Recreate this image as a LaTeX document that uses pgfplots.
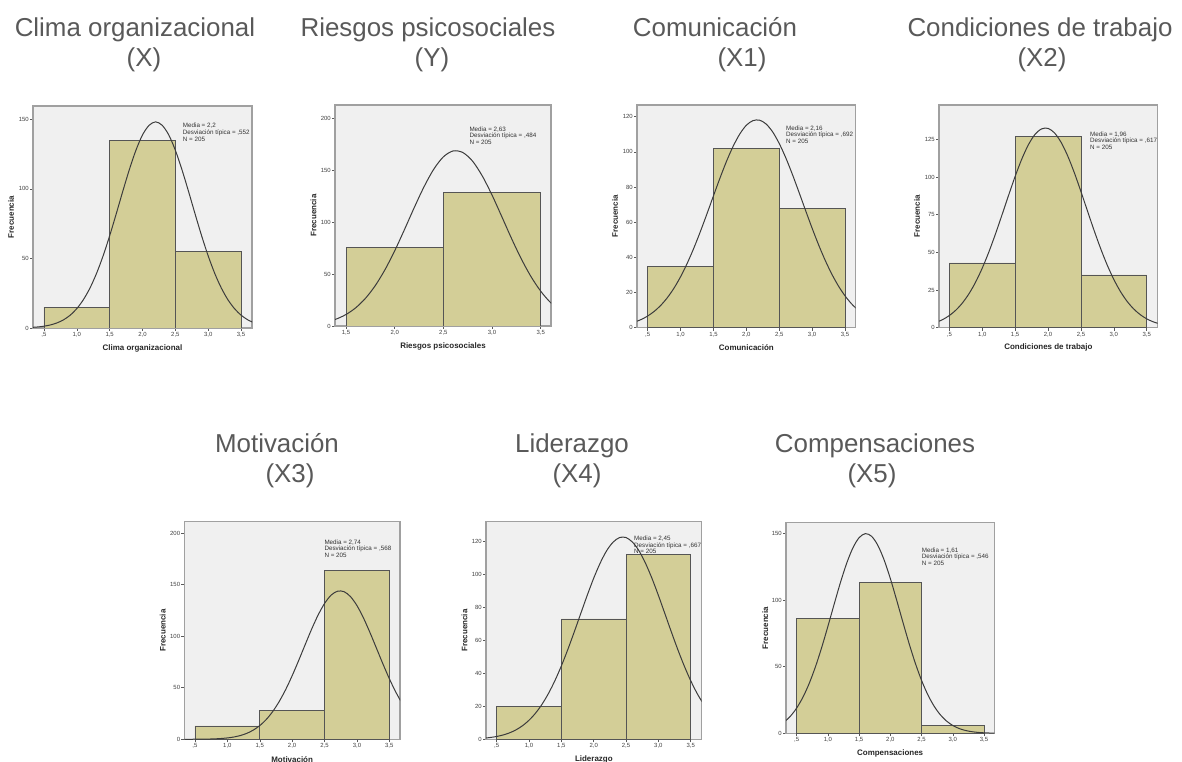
\documentclass[border=0pt]{standalone}
\usepackage{fontspec}
\setmainfont{Liberation Sans}
\usepackage{pgfplots}
\pgfplotsset{compat=1.18}
\definecolor{bgg}{HTML}{F0F0F0}
\definecolor{frameg}{HTML}{A0A0A0}
\definecolor{barf}{HTML}{D3CE97}
\definecolor{bard}{HTML}{555555}
\definecolor{curvec}{HTML}{3C3C3C}
\definecolor{titleg}{HTML}{595959}
\pgfplotsset{
  spss/.style={
    scale only axis,
    axis background/.style={fill=bgg},
    axis line style={draw=frameg, line width=1.2bp},
    tick align=outside,
    major tick length=3bp,
    xtick pos=bottom, ytick pos=left,
    tick style={draw=black!65, line width=0.5bp},
    ymin=0,
    /pgf/number format/assume math mode=true,
    tick label style={font=\fontsize{6}{6}\selectfont, text=black!75, inner sep=1bp},
    label style={font=\bfseries\fontsize{8}{8}\selectfont, text=black!85},
    x label style={at={(axis description cs:0.5,0)}, anchor=center, yshift=-20bp},
    y label style={at={(axis description cs:-0.1,0.5)}, anchor=center},
    ylabel={Frecuencia},
    xtick={0.5,1,1.5,2,2.5,3,3.5},
    xticklabels={{,5},{1,0},{1,5},{2,0},{2,5},{3,0},{3,5}},
  },
  bars/.style={ybar interval, fill=barf, draw=bard, line width=0.7bp},
  normal/.style={smooth, draw=curvec, line width=1bp, mark=none},
}
\tikzset{
  ttl/.style={anchor=base, text=titleg, font=\fontsize{26}{26}\selectfont, inner sep=0},
  ann/.style={anchor=north west, align=left, text=black!80, font=\fontsize{6.3}{6.8}\selectfont, inner sep=0},
}
\begin{document}
\begin{tikzpicture}
\path[use as bounding box] (0,0) rectangle (1182bp,762bp);

% ---- Panel 1: Clima organizacional
\begin{axis}[spss, at={(33bp,434bp)}, anchor=south west, width=219bp, height=222bp,
  xmin=0.333, xmax=3.667, ymax=159.6, ytick={0,50,100,150},
  xlabel={Clima organizacional}]
\addplot[bars] coordinates {(0.5,15) (1.5,135) (2.5,55) (3.5,55)};
\addplot[normal] coordinates {(0.3,0.40)(0.4,0.73)(0.5,1.29)(0.6,2.22)(0.7,3.69)(0.8,5.94)(0.9,9.25)(1.0,13.95)(1.1,20.34)(1.2,28.71)(1.3,39.22)(1.4,51.84)(1.5,66.30)(1.6,82.07)(1.7,98.31)(1.8,113.9)(1.9,127.8)(2.0,138.8)(2.1,145.7)(2.2,148.2)(2.3,145.7)(2.4,138.8)(2.5,127.8)(2.6,113.9)(2.7,98.31)(2.8,82.07)(2.9,66.30)(3.0,51.84)(3.1,39.22)(3.2,28.71)(3.3,20.34)(3.4,13.95)(3.5,9.25)(3.6,5.94)(3.7,3.69)};
\end{axis}

% ---- Panel 2: Riesgos psicosociales
\begin{axis}[spss, at={(335bp,436bp)}, anchor=south west, width=216bp, height=221bp,
  xmin=1.387, xmax=3.606, ymax=213, ytick={0,50,100,150,200},
  xtick={1.5,2,2.5,3,3.5}, xticklabels={{1,5},{2,0},{2,5},{3,0},{3,5}},
  xlabel={Riesgos psicosociales}]
\addplot[bars] coordinates {(1.5,76) (2.5,129) (3.5,129)};
\addplot[normal] coordinates {(1.3,3.87)(1.4,6.69)(1.5,11.07)(1.6,17.56)(1.7,26.68)(1.8,38.83)(1.9,54.18)(2.0,72.42)(2.1,92.79)(2.2,113.9)(2.3,133.9)(2.4,150.9)(2.5,163.0)(2.6,168.7)(2.7,167.2)(2.8,158.9)(2.9,144.6)(3.0,126.2)(3.1,105.5)(3.2,84.46)(3.3,64.82)(3.4,47.67)(3.5,33.59)(3.6,22.68)(3.7,14.68)};
\end{axis}

% ---- Panel 3: Comunicación
\begin{axis}[spss, at={(637bp,434.3bp)}, anchor=south west, width=218.7bp, height=222.7bp,
  xmin=0.337, xmax=3.663, ymax=126.6, ytick={0,20,40,60,80,100,120},
  xlabel={Comunicación}]
\addplot[bars] coordinates {(0.5,35) (1.5,102) (2.5,68) (3.5,68)};
\addplot[normal] coordinates {(0.3,3.19)(0.4,4.65)(0.5,6.65)(0.6,9.31)(0.7,12.77)(0.8,17.14)(0.9,22.52)(1.0,29.00)(1.1,36.56)(1.2,45.14)(1.3,54.60)(1.4,64.66)(1.5,74.99)(1.6,85.18)(1.7,94.76)(1.8,103.2)(1.9,110.1)(2.0,115.1)(2.1,117.7)(2.2,118.0)(2.3,115.8)(2.4,111.3)(2.5,104.7)(2.6,96.55)(2.7,87.16)(2.8,77.05)(2.9,66.71)(3.0,56.57)(3.1,46.98)(3.2,38.21)(3.3,30.43)(3.4,23.73)(3.5,18.13)(3.6,13.56)(3.7,9.94)};
\end{axis}

% ---- Panel 4: Condiciones de trabajo
\begin{axis}[spss, at={(939bp,434.3bp)}, anchor=south west, width=218.7bp, height=222.7bp,
  xmin=0.343, xmax=3.667, ymax=147.8, ytick={0,25,50,75,100,125},
  xlabel={Condiciones de trabajo}]
\addplot[bars] coordinates {(0.5,43) (1.5,127) (2.5,35) (3.5,35)};
\addplot[normal] coordinates {(0.3,3.55)(0.4,5.42)(0.5,8.06)(0.6,11.68)(0.7,16.48)(0.8,22.64)(0.9,30.30)(1.0,39.51)(1.1,50.19)(1.2,62.07)(1.3,74.81)(1.4,87.80)(1.5,100.4)(1.6,111.8)(1.7,121.3)(1.8,128.2)(1.9,131.9)(2.0,132.3)(2.1,129.2)(2.2,122.9)(2.3,113.9)(2.4,102.8)(2.5,90.37)(2.6,77.40)(2.7,64.57)(2.8,52.48)(2.9,41.53)(3.0,32.02)(3.1,24.04)(3.2,17.59)(3.3,12.53)(3.4,8.70)(3.5,5.88)(3.6,3.88)(3.7,2.49)};
\end{axis}

% ---- Panel 5: Motivación
\begin{axis}[spss, at={(184.3bp,22.7bp)}, anchor=south west, width=215.7bp, height=217.6bp,
  xmin=0.335, xmax=3.665, ymax=211, ytick={0,50,100,150,200},
  xlabel={Motivación}]
\addplot[bars] coordinates {(0.5,13) (1.5,28) (2.5,164) (3.5,164)};
\addplot[normal] coordinates {(0.3,0.01)(0.4,0.03)(0.5,0.06)(0.6,0.12)(0.7,0.23)(0.8,0.42)(0.9,0.76)(1.0,1.32)(1.1,2.23)(1.2,3.65)(1.3,5.79)(1.4,8.91)(1.5,13.29)(1.6,19.21)(1.7,26.94)(1.8,36.62)(1.9,48.24)(2.0,61.63)(2.1,76.32)(2.2,91.64)(2.3,106.7)(2.4,120.4)(2.5,131.7)(2.6,139.7)(2.7,143.6)(2.8,143.2)(2.9,138.4)(3.0,129.7)(3.1,117.8)(3.2,103.7)(3.3,88.57)(3.4,73.31)(3.5,58.83)(3.6,45.77)(3.7,34.52)};
\end{axis}

% ---- Panel 6: Liderazgo
\begin{axis}[spss, at={(486bp,22.7bp)}, anchor=south west, width=215.7bp, height=217.6bp,
  xmin=0.335, xmax=3.67, ymax=131.9, ytick={0,20,40,60,80,100,120},
  xlabel={Liderazgo}]
\addplot[bars] coordinates {(0.5,20) (1.5,73) (2.5,112) (3.5,112)};
\addplot[normal] coordinates {(0.3,0.68)(0.4,1.09)(0.5,1.71)(0.6,2.62)(0.7,3.92)(0.8,5.75)(0.9,8.24)(1.0,11.54)(1.1,15.82)(1.2,21.17)(1.3,27.73)(1.4,35.52)(1.5,44.46)(1.6,54.44)(1.7,65.16)(1.8,76.25)(1.9,87.27)(2.0,97.65)(2.1,106.8)(2.2,114.3)(2.3,119.5)(2.4,122.3)(2.5,122.3)(2.6,119.5)(2.7,114.3)(2.8,106.8)(2.9,97.65)(3.0,87.27)(3.1,76.25)(3.2,65.16)(3.3,54.44)(3.4,44.46)(3.5,35.52)(3.6,27.73)(3.7,21.17)};
\end{axis}

% ---- Panel 7: Compensaciones
\begin{axis}[spss, at={(786bp,28.7bp)}, anchor=south west, width=208.3bp, height=210.6bp,
  xmin=0.329, xmax=3.665, ymax=158, ytick={0,50,100,150},
  xlabel={Compensaciones}]
\addplot[bars] coordinates {(0.5,86) (1.5,113) (2.5,6) (3.5,6)};
\addplot[normal] coordinates {(0.3,8.42)(0.4,12.86)(0.5,18.97)(0.6,27.07)(0.7,37.36)(0.8,49.84)(0.9,64.31)(1.0,80.25)(1.1,96.85)(1.2,113.0)(1.3,127.5)(1.4,139.1)(1.5,146.8)(1.6,149.8)(1.7,147.8)(1.8,141.0)(1.9,130.1)(2.0,116.1)(2.1,100.1)(2.2,83.56)(2.3,67.41)(2.4,52.59)(2.5,39.68)(2.6,28.96)(2.7,20.43)(2.8,13.93)(2.9,9.19)(3.0,5.86)(3.1,3.62)(3.2,2.16)(3.3,1.24)(3.4,0.69)(3.5,0.37)(3.6,0.20)(3.7,0.10)};
\end{axis}

% ---- statistics boxes
\node[ann] at (182.7bp,639bp) {Media = 2,2\\Desviación típica = ,552\\N = 205};
\node[ann] at (469.3bp,635.7bp) {Media = 2,63\\Desviación típica = ,484\\N = 205};
\node[ann] at (786bp,636.7bp) {Media = 2,16\\Desviación típica = ,692\\N = 205};
\node[ann] at (1090bp,630.7bp) {Media = 1,96\\Desviación típica = ,617\\N = 205};
\node[ann] at (324.3bp,222.7bp) {Media = 2,74\\Desviación típica = ,568\\N = 205};
\node[ann] at (634bp,226.3bp) {Media = 2,45\\Desviación típica = ,667\\N = 205};
\node[ann] at (921.7bp,214.7bp) {Media = 1,61\\Desviación típica = ,546\\N = 205};

% ---- titles
\node[ttl] at (135bp,725bp) {Clima organizacional};
\node[ttl] at (144bp,695bp) {(X)};
\node[ttl] at (428bp,725bp) {Riesgos psicosociales};
\node[ttl] at (432bp,695bp) {(Y)};
\node[ttl] at (715bp,725bp) {Comunicación};
\node[ttl] at (742bp,695bp) {(X1)};
\node[ttl] at (1040bp,725bp) {Condiciones de trabajo};
\node[ttl] at (1042bp,695bp) {(X2)};
\node[ttl] at (277bp,309bp) {Motivación};
\node[ttl] at (290bp,279bp) {(X3)};
\node[ttl] at (572bp,309bp) {Liderazgo};
\node[ttl] at (577bp,279bp) {(X4)};
\node[ttl] at (875bp,309bp) {Compensaciones};
\node[ttl] at (872bp,279bp) {(X5)};
\end{tikzpicture}
\end{document}
